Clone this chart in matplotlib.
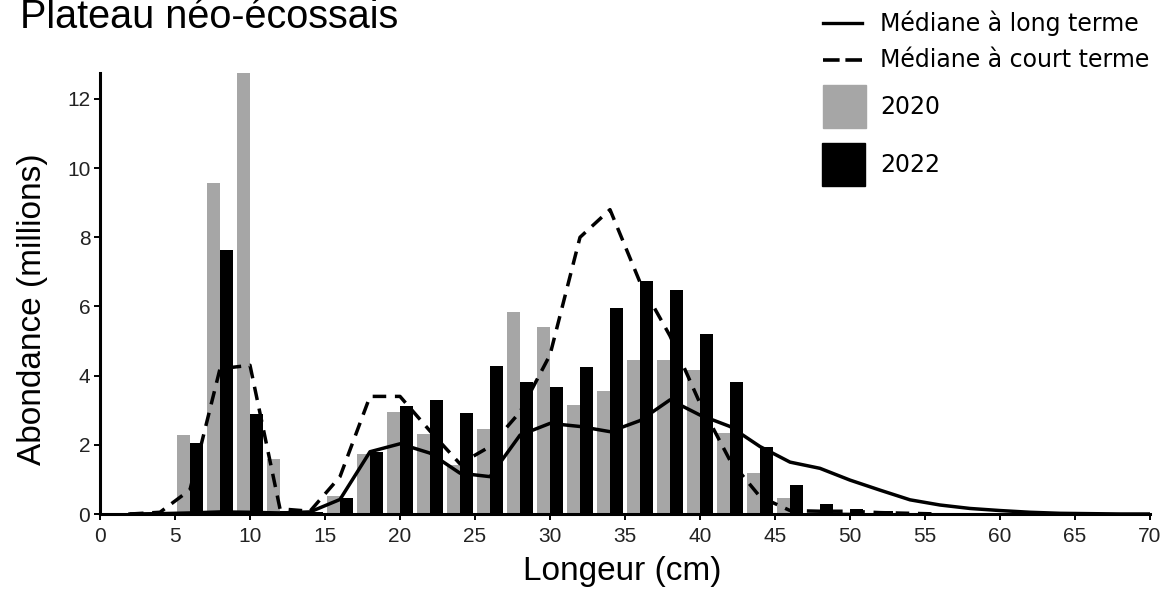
import matplotlib
matplotlib.use("Agg")
import matplotlib.pyplot as plt
from matplotlib.lines import Line2D
from matplotlib.patches import Rectangle
import numpy as np

# ---------------- data ----------------
bins = [6, 8, 10, 12, 14, 16, 18, 20, 22, 24, 26, 28, 30, 32, 34, 36, 38, 40,
        42, 44, 46, 48, 50, 52, 54]
abund_2020 = [2.29, 9.57, 12.8, 1.59, 0.03, 0.52, 1.74, 2.96, 2.31, 1.42, 2.46,
              5.85, 5.40, 3.15, 3.57, 4.44, 4.46, 4.15, 2.35, 1.18, 0.45, 0.12,
              0.07, 0.03, 0.02]
abund_2022 = [2.05, 7.62, 2.88, 0.08, 0.05, 0.47, 1.80, 3.12, 3.30, 2.93, 4.28,
              3.83, 3.68, 4.26, 5.95, 6.75, 6.48, 5.20, 3.83, 1.95, 0.84, 0.29,
              0.14, 0.08, 0.04]

median_lengths = [2, 4, 6, 8, 10, 12, 14, 16, 18, 20, 22, 24, 26, 28, 30, 32, 34,
                  36, 38, 40, 42, 44, 46, 48, 50, 52, 54, 56, 58, 60, 62, 64, 66,
                  68, 70]
median_long = [0.0, 0.01, 0.03, 0.06, 0.05, 0.03, 0.06, 0.42, 1.80, 2.03, 1.76,
               1.18, 1.08, 2.28, 2.62, 2.53, 2.38, 2.70, 3.30, 2.86, 2.53, 1.95,
               1.50, 1.32, 0.98, 0.69, 0.41, 0.26, 0.16, 0.10, 0.05, 0.02, 0.01,
               0.0, 0.0]
short_lengths = [2, 4, 6, 8, 10, 12, 14, 16, 18, 20, 22, 24, 26, 28, 30, 32, 34,
                 36, 38, 40, 42, 44, 46, 48, 50, 52, 54, 56]
median_short = [0.0, 0.05, 0.70, 4.20, 4.30, 0.15, 0.08, 1.08, 3.40, 3.40, 2.40,
                1.45, 1.95, 2.95, 4.60, 8.00, 8.80, 6.70, 5.15, 3.20, 1.55, 0.50,
                0.10, 0.08, 0.08, 0.04, 0.02, 0.0]

title = "Plateau néo-écossais"
xlabel = "Longeur (cm)"
ylabel = "Abondance (millions)"
legend_labels = ["Médiane à long terme", "Médiane à court terme", "2020", "2022"]
xticks = list(range(0, 71, 5))
yticks = list(range(0, 13, 2))

# ---------------- figure ----------------
W, H = 1168, 590
fig = plt.figure(figsize=(W / 100, H / 100), dpi=100)

def fx(px):
    return px / W

def fy(py):
    return 1 - py / H

ax_left, ax_right, ax_top, ax_bottom = 100, 1150, 73, 514
ax = fig.add_axes([fx(ax_left), fy(ax_bottom), fx(ax_right - ax_left),
                   (ax_bottom - ax_top) / H])

GREY = "#a6a6a6"
bw = 0.84
off = 0.44
b = np.array(bins, dtype=float)
ax.bar(b - off, abund_2020, width=bw, color=GREY, linewidth=0, zorder=2)
ax.bar(b + off, abund_2022, width=bw, color="black", linewidth=0, zorder=2)

ax.plot(median_lengths, median_long, color="black", lw=2.5,
        solid_joinstyle="round", zorder=3)
ax.plot(short_lengths, median_short, color="black", lw=2.5,
        linestyle=(0, (3.9, 2.5)), zorder=3)

ax.set_xlim(0, 70)
ax.set_ylim(0, 12.75)
ax.set_xticks(xticks)
ax.set_yticks(yticks)
for s in ["top", "right"]:
    ax.spines[s].set_visible(False)
for s in ["left", "bottom"]:
    ax.spines[s].set_linewidth(2.2)
    ax.spines[s].set_color("black")
ax.tick_params(axis="both", direction="out", length=4.5, width=1.4,
               color="black", labelsize=15, labelcolor="#222222")
ax.tick_params(axis="x", pad=4.5)
ax.tick_params(axis="y", pad=2.5)
for lab in ax.get_xticklabels() + ax.get_yticklabels():
    lab.set_fontfamily("Liberation Sans")

# axis labels & title
fig.text(fx(33), fy(309), ylabel, rotation=90, ha="center", va="center",
         fontsize=24, family="Liberation Sans", color="black")
fig.text(fx(622), fy(580), xlabel, ha="center", va="baseline",
         fontsize=24, family="Liberation Sans", color="black")
fig.text(fx(20), fy(28), title, ha="left", va="baseline",
         fontsize=28.5, family="Liberation Sans", color="black")

# legend (drawn manually)
lfs = 17
fig.add_artist(Line2D([fx(823), fx(862)], [fy(23), fy(23)], color="black",
                      lw=2.4, transform=fig.transFigure))
fig.add_artist(Line2D([fx(823), fx(862)], [fy(60), fy(60)], color="black",
                      lw=2.6, linestyle=(0, (4.6, 1.6)),
                      transform=fig.transFigure))
fig.add_artist(Rectangle((fx(823), fy(128)), fx(43), 43 / H, color=GREY,
                         transform=fig.transFigure))
fig.add_artist(Rectangle((fx(822), fy(186)), fx(43), 43 / H, color="black",
                         transform=fig.transFigure))
for lab, y in zip(legend_labels, [23, 60, 107, 165]):
    fig.text(fx(880), fy(y), lab, ha="left", va="center", fontsize=lfs,
             family="DejaVu Sans", color="black")

fig.savefig("out.png", dpi=100)
